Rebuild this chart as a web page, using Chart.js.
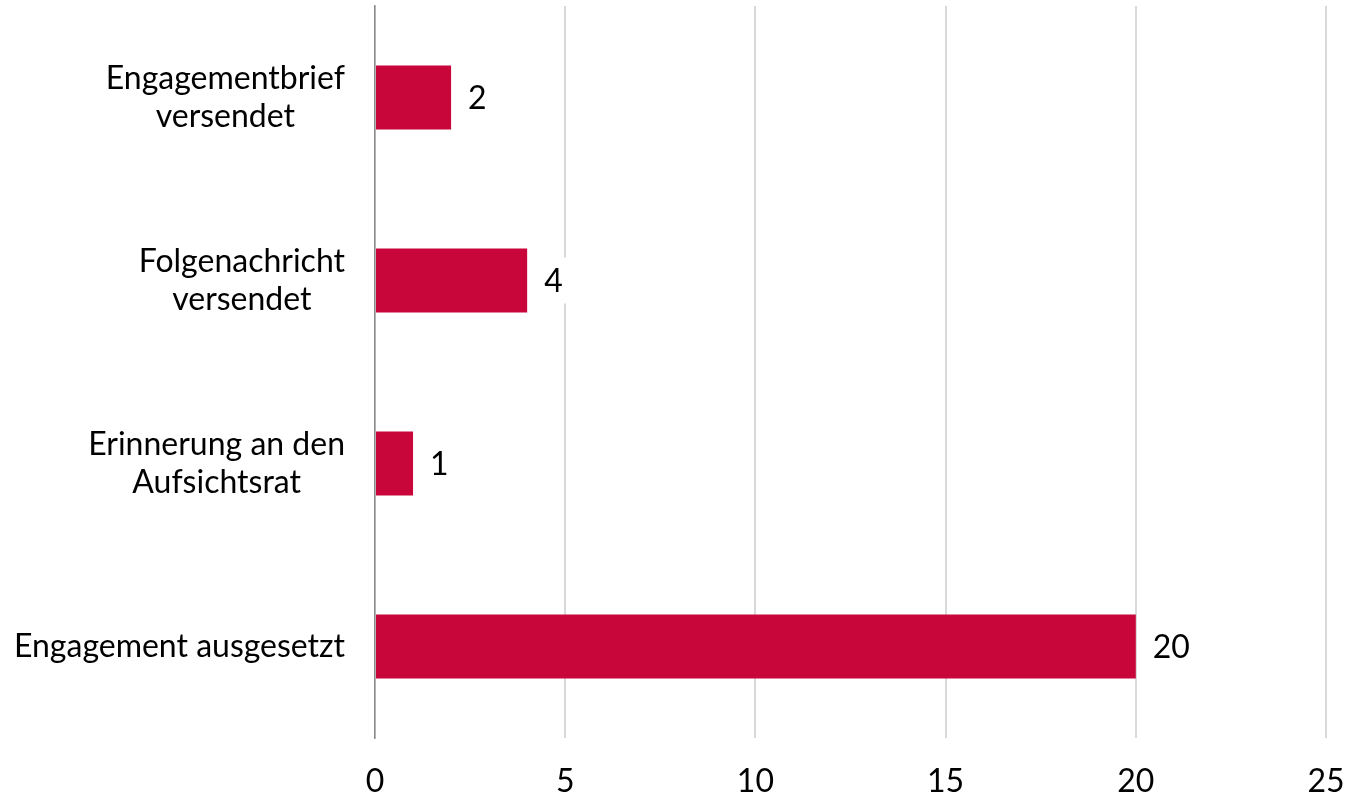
<!DOCTYPE html>
<html>
<head>
<meta charset="utf-8">
<script src="https://cdn.jsdelivr.net/npm/chart.js@4"></script>
<style>
  html, body { margin: 0; padding: 0; background: #fff; }
  #wrap { width: 1350px; height: 800px; }
</style>
</head>
<body>
<div id="wrap"><canvas id="chart" width="1350" height="800"></canvas></div>
<script>
const categories = [
  ["Engagementbrief", "versendet"],
  ["Folgenachricht", "versendet"],
  ["Erinnerung an den", "Aufsichtsrat"],
  "Engagement ausgesetzt"
]
const counts = [2, 4, 1, 20]
const xTicks = [0, 5, 10, 15, 20, 25]

const FONT = "Lato, 'Noto Sans', sans-serif"

// value labels with white box next to each bar
const barLabels = {
  id: "barLabels",
  afterDatasetsDraw(chart) {
    const ctx = chart.ctx
    const meta = chart.getDatasetMeta(0)
    ctx.save()
    ctx.font = "32px " + FONT
    ctx.textBaseline = "middle"
    ctx.textAlign = "left"
    meta.data.forEach((bar, i) => {
      const text = String(counts[i])
      const w = ctx.measureText(text).width
      const x = bar.x + 17
      ctx.fillStyle = "#fff"
      ctx.fillRect(x - 8, bar.y - 23, w + 16, 46)
      ctx.fillStyle = "#000"
      ctx.fillText(text, x, bar.y + 1)
    })
    ctx.restore()
  }
}

// category labels: block right-aligned to the axis, lines centred inside the block
const categoryLabels = {
  id: "categoryLabels",
  afterDraw(chart) {
    const ctx = chart.ctx
    const y = chart.scales.y
    const right = y.right - 30
    const lineH = 38
    ctx.save()
    ctx.font = "32px " + FONT
    ctx.fillStyle = "#000"
    ctx.textBaseline = "middle"
    ctx.textAlign = "center"
    categories.forEach((cat, i) => {
      const lines = Array.isArray(cat) ? cat : [cat]
      const maxW = Math.max(...lines.map(l => ctx.measureText(l).width))
      const cx = right - maxW / 2
      const cy = y.getPixelForTick(i)
      lines.forEach((l, j) => {
        ctx.fillText(l, cx, cy + (j - (lines.length - 1) / 2) * lineH)
      })
    })
    ctx.restore()
  }
}

new Chart(document.getElementById("chart").getContext("2d"), {
  type: "bar",
  data: {
    labels: categories,
    datasets: [{
      data: counts,
      backgroundColor: "#C8063A",
      borderWidth: 0,
      categoryPercentage: 1,
      barPercentage: 0.35
    }]
  },
  options: {
    indexAxis: "y",
    responsive: false,
    animation: false,
    layout: {
      padding: { top: 6, right: 24, bottom: 0, left: 0 }
    },
    plugins: {
      legend: { display: false },
      tooltip: { enabled: false }
    },
    scales: {
      x: {
        min: 0,
        max: 25,
        afterBuildTicks: (scale) => {
          scale.ticks = xTicks.map(v => ({ value: v }))
        },
        afterFit: (scale) => {
          scale.height = 62
          scale.paddingLeft = 0
          scale.paddingRight = 0
        },
        border: { display: false },
        grid: {
          color: "#D9D9D9",
          lineWidth: 2,
          drawTicks: false
        },
        ticks: {
          padding: 24,
          color: "#000",
          font: { family: FONT, size: 32 }
        }
      },
      y: {
        afterFit: (scale) => {
          scale.width = 375
          scale.paddingTop = 0
          scale.paddingBottom = 0
        },
        border: { display: true, color: "#8C8C8C", width: 1.5 },
        grid: { display: false, drawTicks: false },
        ticks: {
          padding: 30,
          color: "rgba(0,0,0,0)",
          font: { family: FONT, size: 32, lineHeight: 1.2 }
        }
      }
    }
  },
  plugins: [barLabels, categoryLabels]
})
</script>
</body>
</html>
